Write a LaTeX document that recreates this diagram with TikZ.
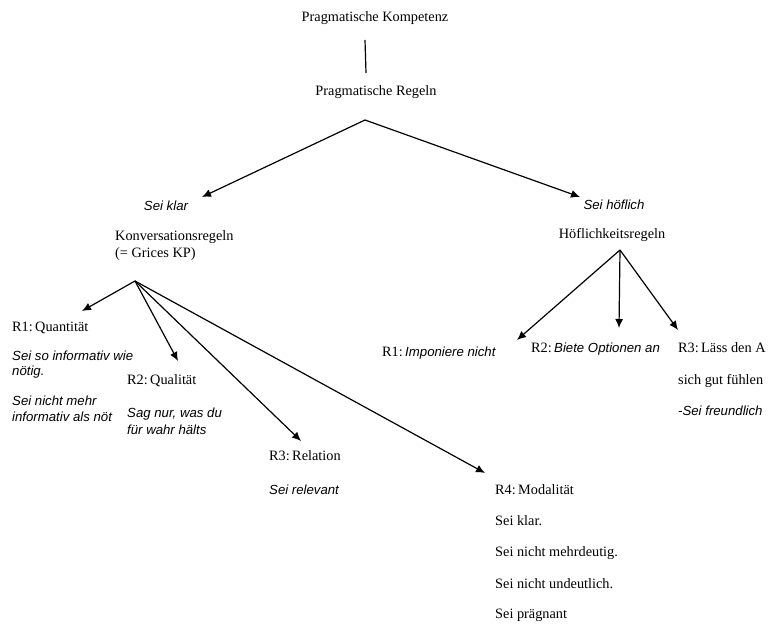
\documentclass[tikz,border=0pt]{standalone}
\usepackage{fontspec}
\setmainfont{Liberation Serif}
\newfontfamily\itf{Liberation Sans}
\usetikzlibrary{arrows.meta}
\begin{document}
\begin{tikzpicture}[x=1pt,y=-1pt,
  txt/.style={inner sep=0pt,anchor=west,font=\fontsize{14.3}{17}\selectfont},
  ctxt/.style={inner sep=0pt,font=\fontsize{14.3}{17}\selectfont},
  itx/.style={inner sep=0pt,anchor=west,font=\itf\itshape\fontsize{13.2}{16}\selectfont},
  citx/.style={inner sep=0pt,font=\itf\itshape\fontsize{13.2}{16}\selectfont},
  arr/.style={line width=1.2pt,-{Latex[length=9pt,width=8pt]}},
  ln/.style={line width=1.2pt}]
\useasboundingbox (0,0) rectangle (769,628);
% top
\node[ctxt] (pk) at (375,18) {Pragmatische Kompetenz};
\node[ctxt] (pr) at (376,92) {Pragmatische Regeln};
\coordinate (l1) at (365,40);
\coordinate (l2) at (366,73);
\draw[ln] (l1) -- (l2);
\coordinate (a0) at (365,120);
\coordinate (tL) at (202,197);
\coordinate (tR) at (580,197);
\draw[arr] (a0) -- (tL);
\draw[arr] (a0) -- (tR);
% left branch
\node[citx] (sk) at (166,206) {Sei klar};
\node[txt] (kr) at (115,237) {Konversationsregeln};
\node[txt] (gk) at (115,254) {(= Grices KP)};
\coordinate (aL) at (135,281);
\coordinate (t1) at (82,311);
\coordinate (t2) at (178,361);
\coordinate (t3) at (301,441);
\coordinate (t4) at (485,473);
\draw[arr] (aL) -- (t1);
\draw[arr] (aL) -- (t2);
\draw[arr] (aL) -- (t3);
\draw[arr] (aL) -- (t4);
% R1
\node[txt] (r1) at (12,328) {R1:\,Quantität};
\node[itx] (r1a) at (12,356) {Sei so informativ wie};
\node[itx] (r1b) at (12,372) {nötig.};
\node[itx] (r1c) at (12,401) {Sei nicht mehr};
\node[itx] (r1d) at (12,417) {informativ als nöt};
% R2
\node[txt] (r2) at (127,381) {R2:\,Qualität};
\node[itx] (r2a) at (127,414) {Sag nur, was du};
\node[itx] (r2b) at (127,430) {für wahr hälts};
% R3
\node[txt] (r3) at (269,456) {R3:\,Relation};
\node[itx] (r3a) at (269,490) {Sei relevant};
% R4
\node[txt] (r4) at (495,490) {R4:\,Modalität};
\node[txt] (r4a) at (495,521) {Sei klar.};
\node[txt] (r4b) at (495,553) {Sei nicht mehrdeutig.};
\node[txt] (r4c) at (495,584) {Sei nicht undeutlich.};
\node[txt] (r4d) at (495,615) {Sei prägnant};
% right branch
\node[citx] (sh) at (614,205) {Sei höflich};
\node[ctxt] (hr) at (612,235) {Höflichkeitsregeln};
\coordinate (aR) at (620,250);
\coordinate (u1) at (517,340);
\coordinate (u2) at (619,328);
\coordinate (u3) at (678,330);
\draw[arr] (aR) -- (u1);
\draw[arr] (aR) -- (u2);
\draw[arr] (aR) -- (u3);
\node[txt] (h1) at (382,353) {R1:\,{\itf\itshape\fontsize{13.2}{16}\selectfont Imponiere nicht}};
\node[txt] (h2) at (531,349) {R2:\,{\itf\itshape\fontsize{13.2}{16}\selectfont Biete Optionen an}};
\node[txt] (h3) at (678,348) {R3:\,Läss den A};
\node[txt] (h3a) at (678,381) {sich gut fühlen};
\node[itx] (h3b) at (678,411) {-Sei freundlich};
\end{tikzpicture}
\end{document}
